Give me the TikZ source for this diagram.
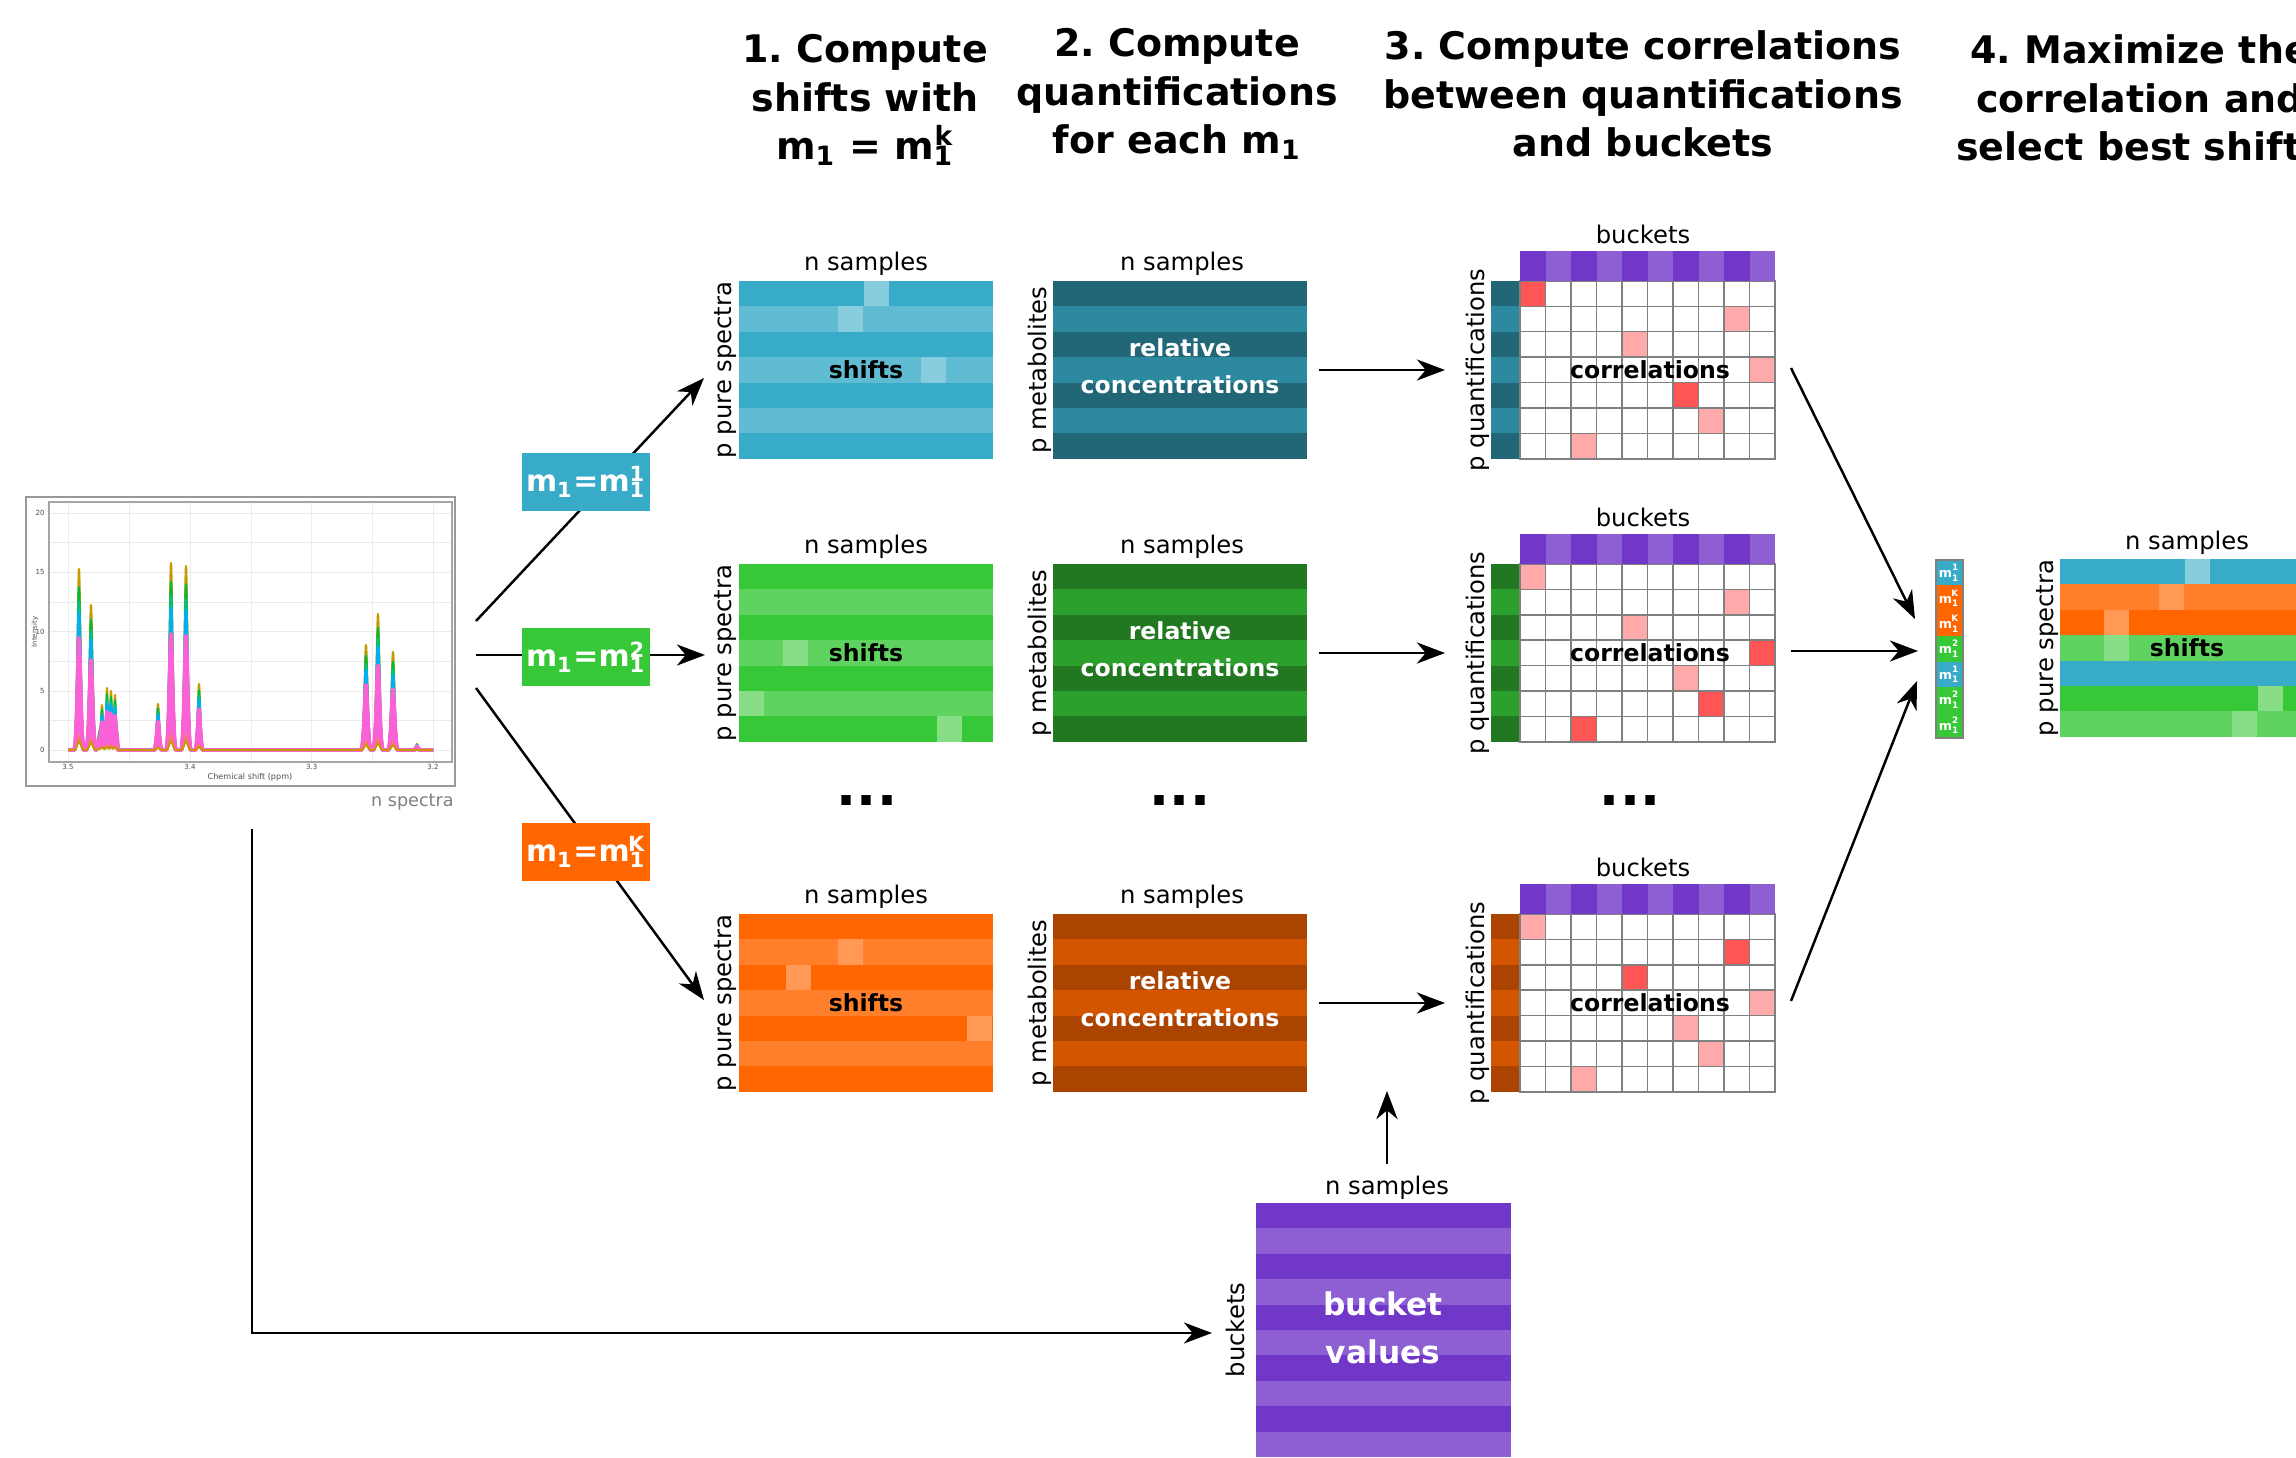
\documentclass[tikz,border=0pt]{standalone}
\usepackage{fontspec}
\setmainfont{DejaVu Sans}
\usetikzlibrary{arrows.meta}
\definecolor{bluA}{HTML}{37ABC8}
\definecolor{bluB}{HTML}{5FBCD3}
\definecolor{bluC}{HTML}{87CDDE}
\definecolor{bluD}{HTML}{216778}
\definecolor{bluE}{HTML}{2C89A0}
\definecolor{grnA}{HTML}{37C837}
\definecolor{grnB}{HTML}{5FD35F}
\definecolor{grnC}{HTML}{87DE87}
\definecolor{grnD}{HTML}{217821}
\definecolor{grnE}{HTML}{2CA02C}
\definecolor{orgA}{HTML}{FF6600}
\definecolor{orgB}{HTML}{FF7F2A}
\definecolor{orgC}{HTML}{FF9955}
\definecolor{orgD}{HTML}{AA4400}
\definecolor{orgE}{HTML}{D45500}
\definecolor{purA}{HTML}{7137C8}
\definecolor{purB}{HTML}{8D5FD3}
\definecolor{corrhi}{HTML}{FF5555}
\definecolor{corrlo}{HTML}{FFAAAA}
\definecolor{gridgray}{HTML}{808080}
\definecolor{gpgold}{HTML}{C49A00}
\definecolor{gpgreen}{HTML}{00BA38}
\definecolor{gpteal}{HTML}{00C08B}
\definecolor{gpcyan}{HTML}{00B0F6}
\definecolor{gpviolet}{HTML}{A58AFF}
\definecolor{gppink}{HTML}{FB61D7}
\definecolor{gpred}{HTML}{F8766D}
\newcommand\msym[2]{m\textsubscript{#1}\llap{\textsuperscript{#2}}}
\frenchspacing
\tikzset{
  heading/.style={align=center,font=\fontsize{10.8}{13.7}\selectfont\bfseries},
  dimlabel/.style={font=\fontsize{6.9}{8}\selectfont},
  matlabel/.style={font=\fontsize{6.7}{10.4}\selectfont\bfseries,align=center},
  mbox/.style={fill=#1,text=white,font=\fontsize{8.5}{10}\selectfont\bfseries,minimum width=1.28cm,minimum height=0.58cm,inner sep=0pt},
  flow/.style={line width=0.7pt,-{Stealth[length=8pt,width=6pt,inset=2.5pt]}},
  axislbl/.style={font=\fontsize{2}{2.4}\selectfont,text=black!70,inner sep=0.5pt},
}
\begin{document}
\begin{tikzpicture}[x=0.01cm,y=-0.01cm]
\useasboundingbox (0,0) rectangle (2296,1458);

\node (h1) [heading] at (865,100) {1. Compute\\shifts with\\m\textsubscript{1} = \msym{1}{k}};
\node (h2) [heading] at (1177,94) {2. Compute\\quantifications\\for each m\textsubscript{1}};
\node (h3) [heading] at (1643,94) {3. Compute correlations\\between quantifications\\and buckets};
\node (h4) [heading] at (2140,98) {4. Maximize the\\correlation and\\select best shifts};

\node (spec) [draw=gray!80,line width=0.6pt,minimum width=4.29cm,minimum height=2.89cm,inner sep=0pt] at (240.5,641.5) {};
\foreach \gx in {68,129,190,251,311.7,372,433} \draw[black!8,line width=0.25pt] (\gx,502) -- (\gx,762);
\foreach \gy in {513,542,572,602,631.5,661,691,720,750} \draw[black!8,line width=0.25pt] (49,\gy) -- (452,\gy);
\draw[black!35,line width=0.3pt] (49,502) rectangle (452,762);
\foreach \gy/\v in {513/20,572/15,631.5/10,691/5,750/0} \node[axislbl,anchor=east] at (47,\gy) {\v};
\foreach \gx/\v in {68/3.5,190/3.4,311.7/3.3,433/3.2} \node[axislbl] at (\gx,767) {\v};
\node[axislbl,rotate=90] at (35,632) {Intensity};
\node[axislbl,font=\fontsize{2.3}{2.6}\selectfont] at (250,777) {Chemical shift (ppm)};
\foreach \clr/\s/\w in {gpgold/1/0.6,gpgreen/0.9/0.6,gpteal/0.82/0.6,gpcyan/0.76/0.8,gpcyan/0.66/0.6,gpteal/0.55/0.6,gpviolet/0.42/0.6,gppink/0.62/1.1,gppink/0.52/1.1,gppink/0.42/1.1,gppink/0.33/1.1,gpred/0.16/0.6,gpviolet/0.22/0.6,gppink/0.24/1,gpred/0.08/0.6,gpgold/0.05/0.5}
  \draw[\clr,line width=\w pt,line join=round] (68,750) foreach \p/\h/\b/\z in {79/181/5/0,91/145/5/0,102/45/2/22,107/62/2/22,111/59/2/22,115/55/2/22,119/0/1/0,158/46/4/0,171/187/5/0,186/184/5/0,199/66/4/0,366/105/5/0,378/136/5/0,393/98/5/0,417/6/3/0}
    { -- (\p-\b,750-\s*\z) .. controls (\p-0.4*\b,750-\s*\z) and (\p-0.2*\b,750-\s*\h) .. (\p,750-\s*\h) .. controls (\p+0.2*\b,750-\s*\h) and (\p+0.4*\b,750-\s*\z) .. (\p+\b,750-\s*\z)} -- (433,750);
\node (nspec) [font=\fontsize{5}{6}\selectfont,text=gray,anchor=east] at (466,802) {n spectra};

\coordinate (s1) at (476,621);
\coordinate (s2) at (476,655);
\coordinate (s3) at (476,688);
\coordinate (in1) at (704,378);
\coordinate (in2) at (705,655);
\coordinate (in3) at (704,1000);
\draw[flow] (s1) -- (in1);
\draw[flow] (s2) -- (in2);
\draw[flow] (s3) -- (in3);
\node (m1) [mbox=bluA] at (586,482) {m\textsubscript{1}=\msym{1}{1}};
\node (m2) [mbox=grnA] at (586,657) {m\textsubscript{1}=\msym{1}{2}};
\node (m3) [mbox=orgA] at (586,852) {m\textsubscript{1}=\msym{1}{K}};

\foreach \ty/\col/\lite/\corr [count=\idx] in {
  281/blu/{125/0,99/1,182/3}/{0/0/corrhi,8/1/corrlo,4/2/corrlo,9/3/corrlo,6/4/corrhi,7/5/corrlo,2/6/corrlo},
  564/grn/{44/3,0/5,198/6}/{0/0/corrlo,8/1/corrlo,4/2/corrlo,9/3/corrhi,6/4/corrlo,7/5/corrhi,2/6/corrhi},
  914/org/{99/1,47/2,228/4}/{0/0/corrlo,8/1/corrhi,4/2/corrhi,9/3/corrlo,6/4/corrlo,7/5/corrlo,2/6/corrlo}}
{
  \foreach \r in {0,...,6} {
    \ifodd\r \def\sh{B}\def\qt{E}\else \def\sh{A}\def\qt{D}\fi
    \fill[\col\sh] (739,\ty+25.4*\r) rectangle +(254,25.4);
    \fill[\col\qt] (1053,\ty+25.4*\r) rectangle +(254,25.4);
    \fill[\col\qt] (1491,\ty+25.4*\r) rectangle +(29,25.4);
    \foreach \j in {0,...,9}
      \draw[gridgray,line width=0.4pt,fill=white] (1520+25.5*\j,\ty+25.4*\r) rectangle +(25.5,25.4);
  }
  \foreach \o/\lr in \lite
    \fill[\col C] (739+\o,\ty+25.4*\lr) rectangle +(25.4,25.4);
  \foreach \j/\lr/\m in \corr
    \draw[gridgray,line width=0.4pt,fill=\m] (1520+25.5*\j,\ty+25.4*\lr) rectangle +(25.5,25.4);
  \foreach \j in {0,...,9} {
    \ifodd\j \def\pp{purB}\else \def\pp{purA}\fi
    \fill[\pp] (1520+25.5*\j,\ty-30) rectangle +(25.5,30);
  }
  \node (shiftn\idx) [dimlabel] at (866,\ty-17) {n samples};
  \node (concn\idx) [dimlabel] at (1182,\ty-17) {n samples};
  \node (corrn\idx) [dimlabel] at (1643,\ty-47) {buckets};
  \node (shiftp\idx) [dimlabel,rotate=90] at (725,\ty+89) {p pure spectra};
  \node (concp\idx) [dimlabel,rotate=90] at (1040,\ty+89) {p metabolites};
  \node (corrp\idx) [dimlabel,rotate=90] at (1478,\ty+89) {p quantifications};
  \node (shift\idx) [matlabel] at (866,\ty+89) {shifts};
  \node (conc\idx) [matlabel,text=white] at (1180,\ty+85) {relative\\concentrations};
  \node (corr\idx) [matlabel] at (1650,\ty+89) {correlations};
  \coordinate (qo\idx) at (1319,\ty+89);
  \coordinate (ci\idx) at (1445,\ty+89);
  \coordinate (co\idx) at (1791,\ty+87);
  \draw[flow] (qo\idx) -- (ci\idx);
}

\node (dots1) [font=\fontsize{15}{15}\selectfont\bfseries] at (867,801) {...};
\node (dots2) [font=\fontsize{15}{15}\selectfont\bfseries] at (1180,801) {...};
\node (dots3) [font=\fontsize{15}{15}\selectfont\bfseries] at (1630,801) {...};

\foreach \lbl/\clr [count=\i from 0] in {1/bluA,K/orgA,K/orgA,2/grnA,1/bluA,2/grnA,2/grnA}
  \node (pick\i) [fill=\clr,text=white,font=\fontsize{3.6}{4}\selectfont\bfseries,minimum width=0.27cm,minimum height=0.254cm,inner sep=0pt] at (1949.5,572.7+25.4*\i) {\msym{1}{\lbl}};
\draw[gridgray,line width=0.4pt] (1936,560) rectangle (1963,738);
\coordinate (pk1) at (1915,619);
\coordinate (pk2) at (1918,651);
\coordinate (pk3) at (1917,681);
\draw[flow] (co1) -- (pk1);
\draw[flow] (co2) -- (pk2);
\draw[flow] (co3) -- (pk3);

\foreach \clr [count=\i from 0] in {bluA,orgB,orgA,grnB,bluA,grnA,grnB}
  \fill[\clr] (2060,559+25.4*\i) rectangle +(254,25.4);
\foreach \clr/\o/\lr in {bluC/125/0,orgC/99/1,orgC/44/2,grnC/44/3,grnC/198/5,grnC/172/6}
  \fill[\clr] (2060+\o,559+25.4*\lr) rectangle +(25.4,25.4);
\node (bestn) [dimlabel] at (2187,543) {n samples};
\node (bestp) [dimlabel,rotate=90] at (2047,648) {p pure spectra};
\node (best) [matlabel] at (2187,648) {shifts};

\foreach \r in {0,...,9} {
  \ifodd\r \def\pp{purB}\else \def\pp{purA}\fi
  \fill[\pp] (1256,1203+25.4*\r) rectangle +(255,25.4);
}
\node (bktn) [dimlabel] at (1387,1188) {n samples};
\node (bktp) [dimlabel,rotate=90] at (1235,1330) {buckets};
\node (bkt) [matlabel,font=\fontsize{8.9}{13.8}\selectfont\bfseries,text=white] at (1383,1328) {bucket\\values};
\coordinate (bin) at (1387,1091);
\draw[flow] (bktn.north) -- (bin);
\coordinate (sbot) at (252,829);
\coordinate (bktin) at (1212,1333);
\draw[flow] (sbot) |- (bktin);
\end{tikzpicture}
\end{document}
